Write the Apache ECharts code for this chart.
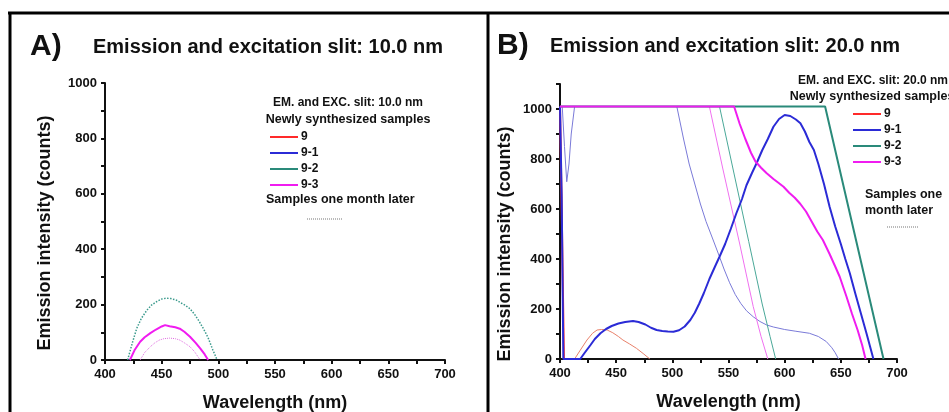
<!DOCTYPE html>
<html>
<head>
<meta charset="utf-8">
<script src="https://cdn.jsdelivr.net/npm/echarts@6/dist/echarts.min.js"></script>
<style>
html,body{margin:0;padding:0;background:#fff;}
#chart{width:949px;height:412px;}
</style>
</head>
<body>
<div id="chart"></div>
<script>
// ---------- Data ----------
const panelTitles = ['Emission and excitation slit: 10.0 nm', 'Emission and excitation slit: 20.0 nm'];
const panelLetters = ['A)', 'B)'];
const legendHeads = ['EM. and EXC. slit: 10.0 nm', 'EM. and EXC. slit: 20.0 nm'];
const sampleNames = ['9', '9-1', '9-2', '9-3'];
const xTicksA = [400, 450, 500, 550, 600, 650, 700];
const yTicksA = [0, 200, 400, 600, 800, 1000];

// Panel A (slit 10 nm)
const A_new_93 = [[422,0],[426,35],[431,66],[435,82],[440,97],[445,110],[450,121],[453,126],[457,122],[462,118],[466,113],[470,102],[475,84],[480,62],[484,42],[488,20],[491,0]];
const A_old_92 = [[420,0],[424,60],[428,114],[432,150],[437,180],[441,198],[446,212],[450,220],[454,223],[458,222],[463,216],[467,206],[471,197],[475,185],[479,165],[483,140],[487,112],[491,80],[495,38],[499,0]];
const A_old_93 = [[431,0],[435,27],[440,48],[444,62],[448,72],[452,77],[457,79],[462,77],[466,72],[470,62],[475,48],[479,30],[484,0]];

// Panel B (slit 20 nm) - newly synthesized
const B_new_9 = [[400,1010],[401.5,600],[403.5,0]];
const B_new_91 = [[400,1010],[401.5,650],[403,0],[418,0],[422,25],[427,55],[431,80],[436,103],[441,120],[446,132],[452,142],[458,148],[465,152],[470,148],[476,138],[481,125],[486,116],[491,112],[496,110],[501,109],[506,115],[511,130],[516,156],[520,185],[524,222],[528,263],[533,320],[538,370],[542,409],[547,460],[552,520],[557,583],[562,640],[566,695],[571,745],[575,783],[580,835],[585,880],[590,929],[595,960],[600,976],[605,972],[610,958],[614,943],[618,910],[622,868],[626,836],[630,780],[635,700],[640,609],[645,530],[650,460],[654,400],[658,343],[663,260],[668,180],[673,100],[676,50],[679,0]];
const B_new_92 = [[400,1010],[636,1010],[688,0]];
const B_new_93 = [[400,1010],[555,1010],[560,940],[565,880],[570,825],[574,790],[579,765],[584,743],[590,720],[595,703],[599,689],[604,665],[609,645],[614,620],[619,590],[624,550],[629,510],[634,476],[640,420],[645,370],[649,329],[655,250],[660,180],[665,115],[669,55],[672,0]];
// Panel B - one month later
const B_old_9 = [[413,0],[418,35],[424,76],[429,103],[433,116],[437,118],[442,116],[447,105],[452,90],[456,76],[462,60],[468,43],[474,22],[480,0]];
const B_old_91 = [[400,1010],[402,1010],[404,850],[406,709],[408,780],[410,900],[413,1010],[504,1010],[510,880],[515,780],[520,700],[525,620],[530,550],[536,480],[542,409],[546,360],[551,305],[556,258],[561,222],[566,193],[572,169],[578,150],[584,136],[590,128],[600,118],[610,111],[622,103],[630,90],[637,70],[642,45],[645,25],[648,0]];
const B_old_92 = [[400,1010],[542,1010],[555,740],[568,470],[580,220],[587,90],[592,0]];
const B_old_93 = [[400,1010],[533,1010],[545,760],[560,460],[572,210],[579,90],[585,0]];

// ---------- Styles ----------
const FONT = '"Liberation Sans", Arial, Helvetica, sans-serif';
const C = {red:'#ff2a2a', blue:'#2b2bd6', teal:'#2a8a7a', mag:'#f01cf0',
           redT:'#e8806a', blueT:'#7a7ad8', tealT:'#4aa898', magT:'#f070f0'};

function xAx(gi){
  return {type:'value', gridIndex:gi, min:400, max:700, interval:25,
    name:'Wavelength (nm)', nameLocation:'middle', nameGap:34,
    nameTextStyle:{fontFamily:FONT, fontWeight:'bold', fontSize:18, color:'#111'},
    axisLine:{show:true, onZero:false, lineStyle:{color:'#111', width:2}},
    axisTick:{show:true, inside:false, length:4, lineStyle:{color:'#111', width:2}},
    axisLabel:{margin:8, fontFamily:FONT, fontWeight:'bold', fontSize:13, color:'#111',
      formatter:v => xTicksA.indexOf(v) >= 0 ? String(v) : ''},
    splitLine:{show:false}};
}
function yAx(gi, max){
  return {type:'value', gridIndex:gi, min:0, max:max, interval:100,
    axisLine:{show:true, onZero:false, lineStyle:{color:'#111', width:2}},
    axisTick:{show:true, inside:false, length:4, lineStyle:{color:'#111', width:2}},
    axisLabel:{margin:8, fontFamily:FONT, fontWeight:'bold', fontSize:13, color:'#111',
      formatter:v => yTicksA.indexOf(v) >= 0 ? String(v) : ''},
    splitLine:{show:false}};
}
function ser(name, data, gi, color, width, type, z){
  return {name:name, type:'line', xAxisIndex:gi, yAxisIndex:gi, data:data,
    symbol:'none', smooth:false, silent:true, z:z||2,
    lineStyle:{color:color, width:width, type:type||'solid'}, itemStyle:{color:color}};
}
function txt(text, x, y, size, align, rot){
  return {type:'text', x:x, y:y, rotation:rot||0, silent:true,
    style:{text:text, font:'bold '+size+'px '+FONT, fill:'#111',
      align:align||'left', verticalAlign:'middle', textAlign:align||'left', textVerticalAlign:'middle'}};
}
function hline(x1, x2, y, w, color, dash){
  return {type:'line', silent:true, shape:{x1:x1, y1:y, x2:x2, y2:y},
    style:{stroke:color, lineWidth:w, lineDash:dash||null}};
}
function vline(x, y1, y2, w){
  return {type:'line', silent:true, shape:{x1:x, y1:y1, x2:x, y2:y2}, style:{stroke:'#000', lineWidth:w}};
}

const legendBase = {orient:'vertical', itemWidth:28, itemHeight:12, itemGap:4,
  selectedMode:false, icon:'path://M0,5L28,5L28,7L0,7Z',
  textStyle:{fontFamily:FONT, fontWeight:'bold', fontSize:12, color:'#111', padding:[0,0,0,-2]},
  data:sampleNames};

const yTitle = 'Emission intensity (counts)';

const option = {
  backgroundColor:'#fff',
  animation:false,
  grid:[
    {left:105, right:504, top:83, bottom:52, containLabel:false, outerBoundsMode:'none'},
    {left:560, right:52, top:84, bottom:53, containLabel:false, outerBoundsMode:'none'}
  ],
  xAxis:[xAx(0), xAx(1)],
  yAxis:[yAx(0, 1000), yAx(1, 1100)],
  legend:[
    Object.assign({}, legendBase, {left:265, top:126}),
    Object.assign({}, legendBase, {left:848, top:103})
  ],
  series:[
    // panel B newly (legend sources first)
    ser('9', B_new_9, 1, C.red, 2, 'solid', 3),
    ser('9-1', B_new_91, 1, C.blue, 2, 'solid', 4),
    ser('9-2', B_new_92, 1, C.teal, 2, 'solid', 3),
    ser('9-3', B_new_93, 1, C.mag, 2, 'solid', 5),
    // panel B month later
    ser('9 (one month later)', B_old_9, 1, C.redT, 1, 'solid', 2),
    ser('9-1 (one month later)', B_old_91, 1, C.blueT, 1, 'solid', 2),
    ser('9-2 (one month later)', B_old_92, 1, C.tealT, 1, 'solid', 2),
    ser('9-3 (one month later)', B_old_93, 1, C.magT, 1, 'solid', 2),
    // panel A
    ser('9-3', A_new_93, 0, C.mag, 2, 'solid', 4),
    ser('9-2 (one month later) A', A_old_92, 0, '#3a9a8c', 1.5, 'dotted', 3),
    ser('9-3 (one month later) A', A_old_93, 0, '#e070e0', 1, 'dotted', 3)
  ],
  graphic:[
    // frames
    hline(8, 949, 13, 3, '#000'),
    vline(10, 12, 412, 3),
    vline(488, 12, 412, 3),
    // panel letters and titles
    txt(panelLetters[0], 30, 47, 30, 'left'),
    txt(panelTitles[0], 268, 47, 20, 'center'),
    txt(panelLetters[1], 497, 46, 30, 'left'),
    txt(panelTitles[1], 725, 46, 20, 'center'),
    // y axis titles
    txt(yTitle, 45, 233, 18, 'center', Math.PI/2),
    txt(yTitle, 505, 244, 18, 'center', Math.PI/2),
    // legend A texts
    txt(legendHeads[0], 348, 103, 12, 'center'),
    txt('Newly synthesized samples', 348, 120, 12.5, 'center'),
    txt('Samples one month later', 266, 200, 12.5, 'left'),
    hline(307, 342, 219, 1, '#777', [1,1]),
    // legend B texts
    txt(legendHeads[1], 873, 81, 12, 'center'),
    txt('Newly synthesized samples', 872, 97, 12.5, 'center'),
    txt('Samples one', 865, 195, 12.5, 'left'),
    txt('month later', 865, 211, 12.5, 'left'),
    hline(887, 919, 227, 1, '#777', [1,1])
  ]
};

const chart = echarts.init(document.getElementById('chart'), null, {renderer:'canvas'});
chart.setOption(option);
</script>
</body>
</html>
